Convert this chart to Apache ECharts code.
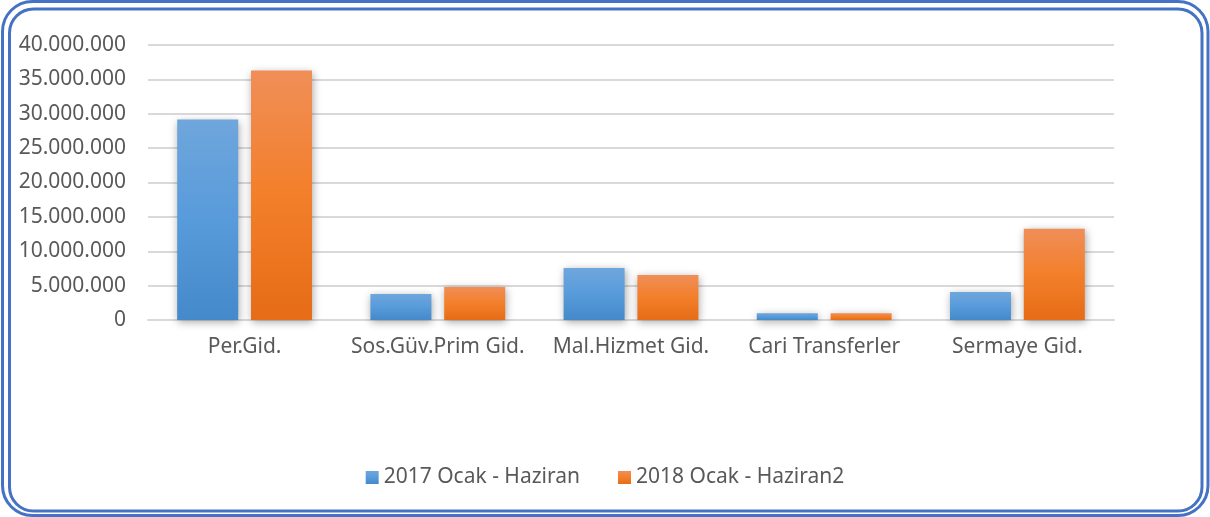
<!DOCTYPE html>
<html>
<head>
<meta charset="UTF-8">
<title>Gider Karşılaştırma</title>
<script src="https://cdn.jsdelivr.net/npm/echarts@6/dist/echarts.min.js"></script>
<style>
  body { margin: 0; background: #fff; }
  #main { width: 1210px; height: 517px; }
</style>
</head>
<body>
<div id="main"></div>
<script type="text/javascript">
// kategoriler ve seriler
var categories = ['Per.Gid.', 'Sos.Güv.Prim Gid.', 'Mal.Hizmet Gid.', 'Cari Transferler', 'Sermaye Gid.'];
var seriesNames = ['2017 Ocak - Haziran', '2018 Ocak - Haziran2'];
var values2017 = [29150000, 3790000, 7580000, 1000000, 4080000];
var values2018 = [36280000, 4810000, 6560000, 1000000, 13260000];
var yTicks = [0, 5000000, 10000000, 15000000, 20000000, 25000000, 30000000, 35000000, 40000000];

var font = 'Noto Sans';
var textColor = '#595959';

function fmt(v) {
    return String(v).replace(/\B(?=(\d{3})+(?!\d))/g, '.');
}

function grad(top, mid, bottom) {
    return new echarts.graphic.LinearGradient(0, 0, 0, 1, [
        { offset: 0, color: top },
        { offset: 0.5, color: mid },
        { offset: 1, color: bottom }
    ]);
}

var myChart = echarts.init(document.getElementById('main'));

var option = {
    animation: false,
    textStyle: { fontFamily: font },
    // çift çizgili yuvarlak çerçeve
    graphic: [
        {
            type: 'rect',
            shape: { x: 2.5, y: 1.5, width: 1205.5, height: 514, r: 30 },
            style: { fill: 'none', stroke: '#4472C4', lineWidth: 3 },
            silent: true
        },
        {
            type: 'rect',
            shape: { x: 9.5, y: 9, width: 1192.5, height: 502, r: 24 },
            style: { fill: 'none', stroke: '#4472C4', lineWidth: 3 },
            silent: true
        }
    ],
    legend: {
        top: 462,
        left: 'center',
        itemWidth: 13,
        itemHeight: 13,
        itemGap: 38,
        icon: 'rect',
        textStyle: { fontFamily: font, fontSize: 21, color: textColor },
        data: seriesNames
    },
    grid: { left: 148, right: 96, top: 45, bottom: 197, containLabel: false },
    xAxis: {
        type: 'category',
        data: categories,
        axisTick: { show: false },
        axisLine: { lineStyle: { color: '#D9D9D9', width: 2 } },
        axisLabel: { interval: 0, fontFamily: font, fontSize: 21, color: textColor, margin: 17 }
    },
    yAxis: {
        type: 'value',
        min: yTicks[0],
        max: yTicks[yTicks.length - 1],
        interval: yTicks[1] - yTicks[0],
        axisLine: { show: false },
        axisTick: { show: false },
        splitLine: { lineStyle: { color: '#D9D9D9', width: 2 } },
        axisLabel: { fontFamily: font, fontSize: 21, color: textColor, margin: 22, formatter: fmt }
    },
    series: [
        {
            name: seriesNames[0],
            type: 'bar',
            data: values2017,
            barWidth: 61,
            barGap: '21%',
            itemStyle: {
                color: grad('#6FA6DC', '#589BDB', '#4489C9'),
                shadowBlur: 8,
                shadowColor: 'rgba(0,0,0,0.35)',
                shadowOffsetX: 1,
                shadowOffsetY: 2
            }
        },
        {
            name: seriesNames[1],
            type: 'bar',
            data: values2018,
            barWidth: 61,
            barGap: '21%',
            itemStyle: {
                color: grad('#F08E58', '#F37F2A', '#E66C17'),
                shadowBlur: 8,
                shadowColor: 'rgba(0,0,0,0.35)',
                shadowOffsetX: 1,
                shadowOffsetY: 2
            }
        }
    ]
};

myChart.setOption(option);
</script>
</body>
</html>
